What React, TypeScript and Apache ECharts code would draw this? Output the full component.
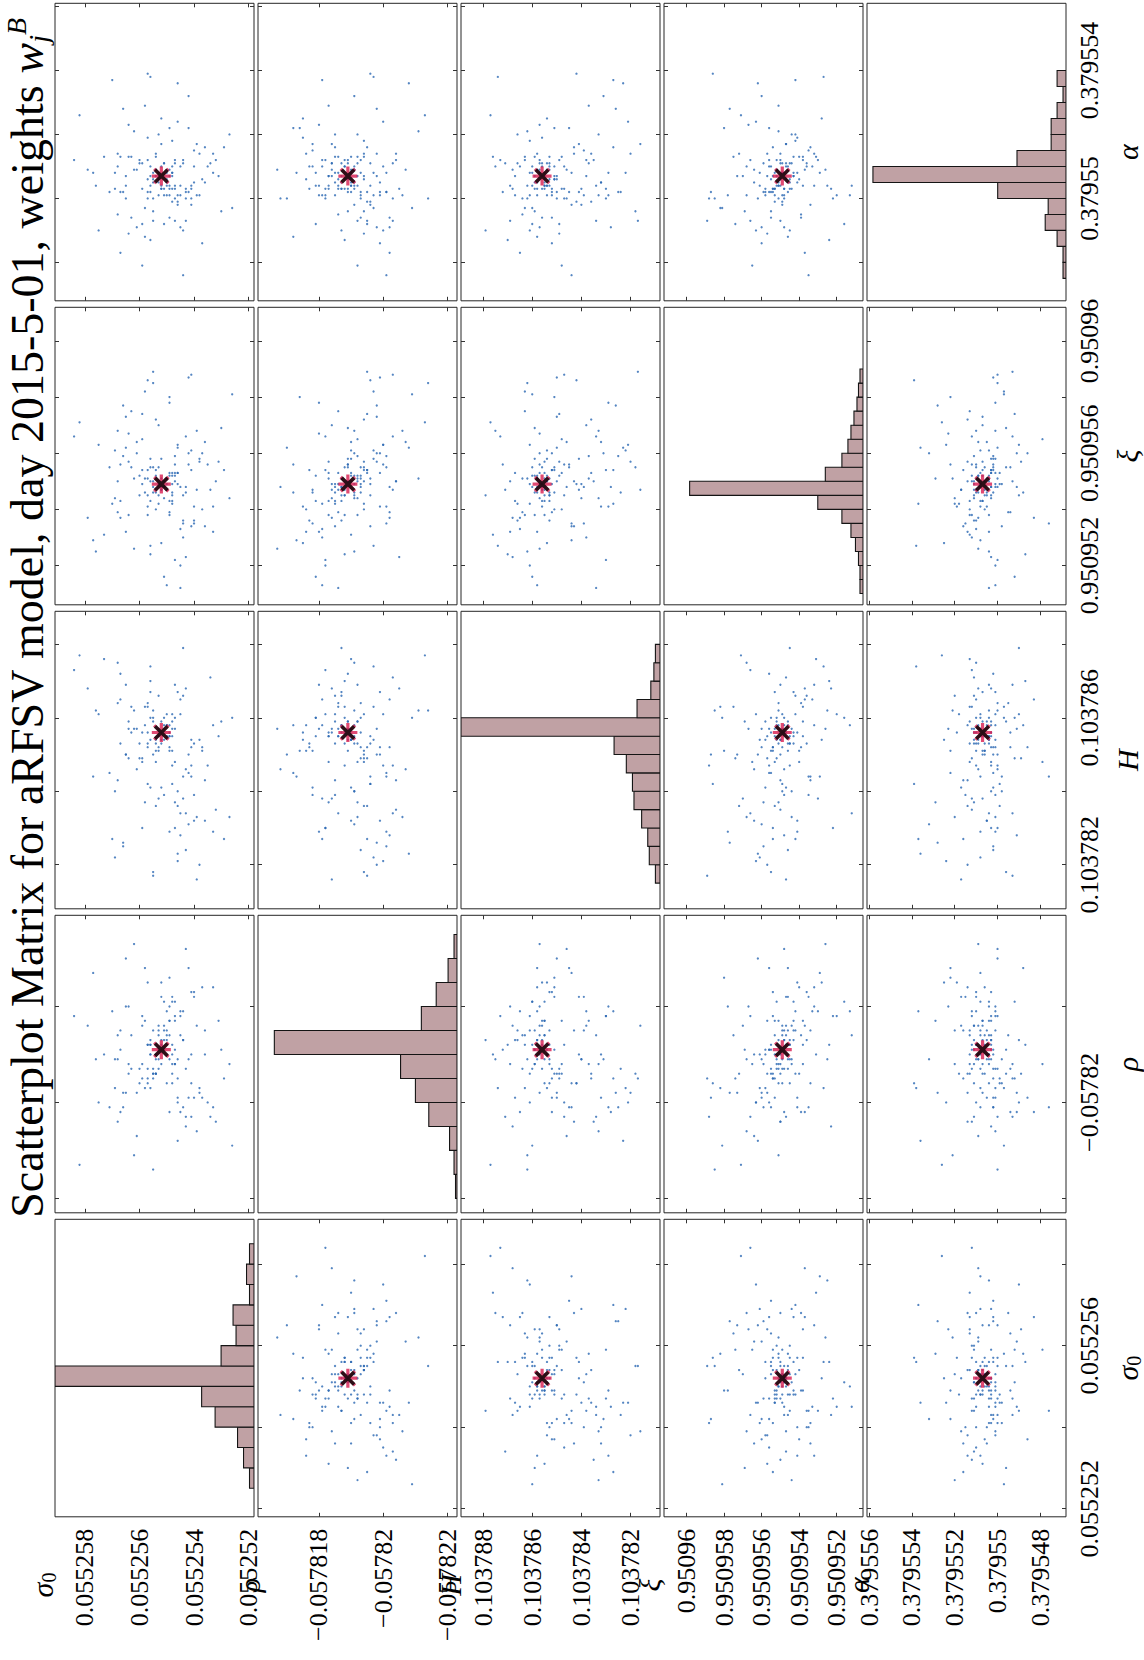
import React, { useEffect, useRef } from "react";
import * as echarts from "echarts";

// ---------------- data (samples) ----------------
const sigma0 = [
  0.0552547, 0.0552564, 0.0552543, 0.0552556, 0.0552538, 0.0552552, 0.0552576, 0.0552546, 0.0552559, 0.0552541,
  0.0552567, 0.0552549, 0.0552533, 0.0552557, 0.0552544, 0.0552561, 0.0552548, 0.0552582, 0.055254, 0.0552555,
  0.0552545, 0.0552568, 0.0552536, 0.0552553, 0.0552542, 0.0552558, 0.0552547, 0.0552565, 0.0552529, 0.0552549,
  0.0552563, 0.0552543, 0.0552556, 0.0552531, 0.0552569, 0.0552546, 0.0552551, 0.055256, 0.0552539, 0.0552579,
  0.0552548, 0.0552557, 0.0552541, 0.0552566, 0.0552545, 0.0552571, 0.0552544, 0.0552554, 0.0552537, 0.0552562,
  0.0552547, 0.0552559, 0.0552534, 0.0552552, 0.055254, 0.0552555, 0.0552567, 0.0552546, 0.0552577, 0.0552542,
  0.0552558, 0.0552549, 0.0552532, 0.0552564, 0.0552543, 0.0552556, 0.0552535, 0.0552565, 0.0552548, 0.0552553,
  0.0552545, 0.0552573, 0.0552541, 0.0552557, 0.0552568, 0.0552538, 0.055255, 0.0552561, 0.0552527, 0.0552547,
  0.0552559, 0.0552544, 0.0552566, 0.0552552, 0.0552546, 0.0552584, 0.055254, 0.0552555, 0.0552536, 0.0552563,
  0.0552548, 0.0552569, 0.0552543, 0.0552558, 0.055253, 0.0552554, 0.0552549, 0.0552567, 0.0552542, 0.055256,
  0.0552545, 0.0552575, 0.0552539, 0.0552556, 0.0552533, 0.0552565, 0.0552547, 0.055257, 0.0552541, 0.0552557,
  0.0552546, 0.0552562, 0.0552537, 0.0552551, 0.0552568, 0.0552544, 0.0552559, 0.0552526, 0.0552548, 0.0552564,
  0.055255, 0.0552554, 0.0552549, 0.0552555, 0.0552553, 0.0552551, 0.0552556, 0.0552548, 0.0552552, 0.0552557,
  0.055255, 0.0552553, 0.0552547, 0.0552555, 0.0552551, 0.0552554, 0.0552549, 0.0552552, 0.0552556, 0.055255,
  0.0552553, 0.0552548, 0.0552555, 0.0552551, 0.0552554, 0.0552552, 0.0552549, 0.0552557, 0.055255, 0.0552553,
];
const rho = [
  -0.0578183, -0.0578192, -0.0578203, -0.0578187, -0.0578197, -0.0578178, -0.0578191, -0.0578208, -0.0578184, -0.0578196,
  -0.0578189, -0.0578174, -0.0578201, -0.0578193, -0.0578181, -0.0578198, -0.0578188, -0.0578213, -0.0578177, -0.0578194,
  -0.0578182, -0.0578204, -0.057819, -0.0578185, -0.0578199, -0.0578172, -0.0578192, -0.057818, -0.0578195, -0.0578202,
  -0.0578186, -0.0578168, -0.0578197, -0.0578183, -0.0578191, -0.05782, -0.0578179, -0.0578193, -0.0578206, -0.0578184,
  -0.0578196, -0.0578175, -0.057819, -0.0578198, -0.0578181, -0.0578201, -0.0578187, -0.0578194, -0.0578176, -0.0578211,
  -0.0578182, -0.0578192, -0.0578203, -0.0578189, -0.0578178, -0.0578195, -0.0578185, -0.0578199, -0.0578173, -0.0578191,
  -0.0578197, -0.0578183, -0.0578204, -0.057818, -0.0578193, -0.0578188, -0.05782, -0.057817, -0.0578194, -0.0578184,
  -0.0578202, -0.057819, -0.0578177, -0.0578196, -0.0578186, -0.0578198, -0.0578181, -0.0578207, -0.0578192, -0.0578179,
  -0.0578195, -0.0578187, -0.0578201, -0.0578175, -0.0578191, -0.0578182, -0.0578199, -0.0578214, -0.0578185, -0.0578193,
  -0.0578178, -0.0578197, -0.0578205, -0.0578183, -0.0578189, -0.0578194, -0.057818, -0.0578202, -0.0578172, -0.0578196,
  -0.0578186, -0.05782, -0.0578184, -0.057819, -0.0578176, -0.0578198, -0.0578192, -0.0578181, -0.0578203, -0.0578188,
  -0.0578195, -0.0578167, -0.0578199, -0.0578185, -0.0578191, -0.0578201, -0.0578182, -0.0578209, -0.0578179, -0.0578194,
  -0.0578187, -0.0578191, -0.0578186, -0.0578193, -0.0578189, -0.0578184, -0.057819, -0.0578192, -0.0578188, -0.0578195,
  -0.0578185, -0.0578191, -0.0578189, -0.0578194, -0.0578187, -0.057819, -0.0578183, -0.0578192, -0.0578188, -0.0578186,
  -0.0578193, -0.057819, -0.0578185, -0.0578189, -0.0578194, -0.0578187, -0.0578191, -0.0578188, -0.0578196, -0.0578186,
];
const hurst = [
  0.1037848, 0.1037859, 0.1037834, 0.1037867, 0.1037854, 0.1037841, 0.1037862, 0.1037823, 0.1037856, 0.1037844,
  0.1037872, 0.1037851, 0.1037829, 0.1037864, 0.1037838, 0.1037857, 0.1037847, 0.1037877, 0.1037853, 0.1037818,
  0.1037861, 0.1037843, 0.1037832, 0.1037866, 0.103785, 0.1037858, 0.1037837, 0.1037869, 0.1037827, 0.1037852,
  0.1037863, 0.1037846, 0.1037874, 0.1037855, 0.103784, 0.1037821, 0.103786, 0.1037849, 0.1037833, 0.1037868,
  0.1037842, 0.1037856, 0.1037854, 0.1037826, 0.1037865, 0.1037845, 0.1037879, 0.1037836, 0.1037851, 0.1037862,
  0.103783, 0.1037848, 0.1037871, 0.1037859, 0.1037839, 0.1037817, 0.1037853, 0.1037867, 0.1037844, 0.1037831,
  0.1037863, 0.1037855, 0.1037835, 0.1037857, 0.1037824, 0.103787, 0.1037847, 0.103785, 0.1037861, 0.1037838,
  0.1037828, 0.1037876, 0.1037852, 0.1037842, 0.1037864, 0.103782, 0.1037858, 0.1037846, 0.1037833, 0.103786,
  0.1037849, 0.1037866, 0.1037825, 0.1037854, 0.103784, 0.1037873, 0.1037832, 0.1037862, 0.1037843, 0.1037856,
  0.1037851, 0.1037822, 0.1037868, 0.1037837, 0.1037859, 0.1037848, 0.1037829, 0.1037865, 0.1037845, 0.1037853,
  0.1037834, 0.1037861, 0.1037816, 0.1037841, 0.1037858, 0.103785, 0.1037869, 0.1037827, 0.1037847, 0.1037863,
  0.1037836, 0.1037857, 0.1037852, 0.1037839, 0.1037875, 0.1037844, 0.103783, 0.103786, 0.1037855, 0.1037849,
  0.1037858, 0.1037853, 0.1037855, 0.103786, 0.1037851, 0.1037857, 0.1037854, 0.1037859, 0.1037856, 0.1037852,
  0.1037861, 0.1037855, 0.1037857, 0.103785, 0.1037858, 0.1037854, 0.1037856, 0.1037853, 0.103786, 0.1037855,
  0.1037852, 0.1037857, 0.1037859, 0.1037854, 0.1037851, 0.1037856, 0.1037858, 0.1037853, 0.1037855, 0.1037857,
];
const xi = [
  0.9509553, 0.9509538, 0.9509566, 0.9509543, 0.9509558, 0.9509547, 0.9509525, 0.9509562, 0.9509549, 0.9509534,
  0.9509556, 0.950958, 0.9509541, 0.9509551, 0.950953, 0.950956, 0.9509545, 0.9509571, 0.9509536, 0.9509555,
  0.950952, 0.950955, 0.9509564, 0.9509542, 0.9509587, 0.9509546, 0.9509559, 0.9509532, 0.9509554, 0.9509539,
  0.9509575, 0.9509548, 0.9509527, 0.9509557, 0.9509544, 0.9509563, 0.9509516, 0.9509552, 0.9509568, 0.9509537,
  0.9509549, 0.9509541, 0.9509561, 0.9509577, 0.9509533, 0.9509555, 0.9509545, 0.9509572, 0.950954, 0.9509551,
  0.9509522, 0.9509565, 0.9509547, 0.9509558, 0.9509535, 0.9509589, 0.9509543, 0.9509553, 0.9509529, 0.950956,
  0.9509582, 0.9509538, 0.950955, 0.9509567, 0.9509546, 0.9509524, 0.9509556, 0.9509562, 0.9509542, 0.950957,
  0.9509548, 0.9509531, 0.9509554, 0.9509586, 0.9509539, 0.9509557, 0.9509513, 0.9509564, 0.9509544, 0.9509552,
  0.9509574, 0.9509536, 0.9509559, 0.9509528, 0.9509549, 0.9509566, 0.9509541, 0.9509585, 0.9509534, 0.9509555,
  0.9509546, 0.9509561, 0.9509523, 0.9509551, 0.9509569, 0.950954, 0.9509578, 0.9509537, 0.9509556, 0.9509545,
  0.9509512, 0.9509563, 0.9509547, 0.9509558, 0.9509532, 0.9509573, 0.950955, 0.9509542, 0.9509588, 0.9509538,
  0.9509553, 0.9509526, 0.950956, 0.9509548, 0.9509568, 0.9509535, 0.9509554, 0.9509581, 0.9509543, 0.9509557,
  0.9509551, 0.9509546, 0.9509553, 0.9509548, 0.9509555, 0.9509544, 0.950955, 0.9509552, 0.9509547, 0.9509554,
  0.9509549, 0.9509545, 0.9509556, 0.950955, 0.9509548, 0.9509552, 0.9509543, 0.9509551, 0.9509555, 0.9509547,
  0.9509549, 0.9509553, 0.9509546, 0.950955, 0.9509554, 0.9509548, 0.9509552, 0.9509545, 0.9509551, 0.9509549,
];
const alpha = [
  0.3795503, 0.3795513, 0.3795493, 0.3795507, 0.3795501, 0.3795517, 0.3795504, 0.3795536, 0.3795511, 0.3795498,
  0.3795502, 0.3795522, 0.3795508, 0.37955, 0.3795512, 0.3795491, 0.3795503, 0.3795526, 0.379551, 0.3795496,
  0.3795501, 0.3795514, 0.3795505, 0.379552, 0.3795502, 0.3795488, 0.3795511, 0.3795504, 0.3795516, 0.3795494,
  0.3795513, 0.37955, 0.3795538, 0.3795507, 0.3795503, 0.3795524, 0.3795492, 0.3795512, 0.3795501, 0.3795509,
  0.3795499, 0.3795519, 0.3795504, 0.3795528, 0.379551, 0.3795502, 0.379549, 0.3795514, 0.3795506, 0.3795521,
  0.37955, 0.3795479, 0.3795511, 0.3795503, 0.3795515, 0.3795493, 0.3795513, 0.3795501, 0.3795508, 0.3795532,
  0.3795497, 0.3795504, 0.3795512, 0.3795523, 0.3795502, 0.3795487, 0.379551, 0.37955, 0.3795518, 0.3795507,
  0.3795491, 0.3795513, 0.3795503, 0.3795539, 0.3795495, 0.3795514, 0.3795501, 0.3795509, 0.379552, 0.3795504,
  0.3795492, 0.3795511, 0.3795502, 0.3795525, 0.3795498, 0.3795512, 0.3795505, 0.37955, 0.3795516, 0.3795494,
  0.379551, 0.3795508, 0.3795503, 0.3795529, 0.3795496, 0.3795513, 0.3795501, 0.3795483, 0.3795522, 0.3795511,
  0.3795504, 0.379549, 0.3795517, 0.3795502, 0.3795514, 0.3795507, 0.3795493, 0.3795537, 0.37955, 0.3795512,
  0.3795499, 0.3795509, 0.3795486, 0.3795501, 0.379551, 0.3795476, 0.3795503, 0.3795497, 0.3795508, 0.3795489,
  0.3795505, 0.3795509, 0.3795503, 0.3795508, 0.3795506, 0.3795511, 0.3795504, 0.3795507, 0.379551, 0.3795502,
  0.3795508, 0.3795505, 0.3795512, 0.3795506, 0.3795503, 0.3795509, 0.3795507, 0.3795504, 0.379551, 0.3795506,
  0.3795501, 0.3795508, 0.3795505, 0.3795511, 0.3795507, 0.3795503, 0.3795509, 0.3795506, 0.3795504, 0.3795508,
];

// weighted mean (red asterisk) and reference estimate (black cross): sigma0, rho, H, xi, alpha
const meanPoint = [0.0552552, -0.0578189, 0.1037856, 0.9509549, 0.3795507];
const bestPoint = [0.0552552, -0.0578189, 0.1037856, 0.9509549, 0.3795507];

// axis limits
const axisMin = [0.0552518, -0.0578223, 0.1037808, 0.9509506, 0.3795468];
const axisMax = [0.0552591, -0.0578161, 0.1037889, 0.9509612, 0.3795561];

// ticks and labels
const sigma0Ticks = [0.055252, 0.055254, 0.055256, 0.055258];
const rhoTicks = [-0.057822, -0.05782, -0.057818];
const hurstTicks = [0.103782, 0.103784, 0.103786, 0.103788];
const xiTicks = [0.950952, 0.950954, 0.950956, 0.950958, 0.95096];
const alphaTicks = [0.379548, 0.37955, 0.379552, 0.379554, 0.379556];

const sigma0TickText = ["0.055252", "0.055254", "0.055256", "0.055258"];
const rhoTickText = ["\u22120.057822", "\u22120.05782", "\u22120.057818"];
const hurstTickText = ["0.103782", "0.103784", "0.103786", "0.103788"];
const xiTickText = ["0.950952", "0.950954", "0.950956", "0.950958", "0.95096"];
const alphaTickText = ["0.379548", "0.37955", "0.379552", "0.379554", "0.379556"];

const sigma0RightTicks = [0.055252, 0.055256];
const rhoRightTicks = [-0.05782];
const hurstRightTicks = [0.103782, 0.103786];
const xiRightTicks = [0.950952, 0.950956, 0.95096];
const alphaRightTicks = [0.37955, 0.379554];

// histograms (bin edges, counts, count-axis max)
const sigma0BinEdges = [0.0552525, 0.055253, 0.0552535, 0.055254, 0.0552545, 0.055255, 0.0552555, 0.055256, 0.0552565, 0.055257, 0.0552575, 0.055258, 0.0552585];
const sigma0Counts = [3, 7, 11, 26, 35, 133, 22, 12, 14, 3, 5, 3];
const rhoBinEdges = [-0.057822, -0.0578215, -0.057821, -0.0578205, -0.05782, -0.0578195, -0.057819, -0.0578185, -0.057818, -0.0578175, -0.057817, -0.0578165];
const rhoCounts = [1, 2, 5, 19, 28, 38, 123, 24, 14, 6, 2];
const hurstBinEdges = [0.1037815, 0.103782, 0.1037825, 0.103783, 0.1037835, 0.103784, 0.1037845, 0.103785, 0.1037855, 0.103786, 0.1037865, 0.103787, 0.1037875, 0.103788];
const hurstCounts = [3, 7, 8, 12, 17, 18, 22, 30, 130, 15, 6, 4, 3];
const xiBinEdges = [0.950951, 0.9509515, 0.950952, 0.9509525, 0.950953, 0.9509535, 0.950954, 0.9509545, 0.950955, 0.9509555, 0.950956, 0.9509565, 0.950957, 0.9509575, 0.950958, 0.9509585, 0.950959];
const xiCounts = [2, 2, 3, 5, 8, 14, 30, 115, 25, 14, 10, 8, 6, 4, 3, 2];
const alphaBinEdges = [0.3795475, 0.379548, 0.3795485, 0.379549, 0.3795495, 0.37955, 0.3795505, 0.379551, 0.3795515, 0.379552, 0.3795525, 0.379553, 0.3795535, 0.379554];
const alphaCounts = [2, 2, 6, 14, 12, 46, 130, 33, 10, 10, 6, 2, 6];
const histMax = [133, 134, 130, 132, 134];

const titleText = "Scatterplot Matrix for aRFSV model, day 2015-5-01, weights ";

// ---------------- layout / style ----------------
const FONT = "Liberation Serif";
const COL_LEFT = 55;
const COL_STEP = 203;
const PANEL_W = 199;
const ROW_TOP = 3.3;
const ROW_STEP = 304;
const PANEL_H = 297.5;

const ASTERISK = "path://M8.3,0h3.4v20h-3.4z M0,8.3h20v3.4h-20z M1.3,3.7l2.4,-2.4l15,15l-2.4,2.4z M16.3,1.3l2.4,2.4l-15,15l-2.4,-2.4z";
const CROSS = "path://M0,3.4L3.4,0L20,16.6L16.6,20Z M16.6,0L20,3.4L3.4,20L0,16.6Z";

function buildOption() {
  const vars = [sigma0, rho, hurst, xi, alpha];
  const ticks = [sigma0Ticks, rhoTicks, hurstTicks, xiTicks, alphaTicks];
  const tickText = [sigma0TickText, rhoTickText, hurstTickText, xiTickText, alphaTickText];
  const rightTicks = [sigma0RightTicks, rhoRightTicks, hurstRightTicks, xiRightTicks, alphaRightTicks];
  const binEdges = [sigma0BinEdges, rhoBinEdges, hurstBinEdges, xiBinEdges, alphaBinEdges];
  const counts = [sigma0Counts, rhoCounts, hurstCounts, xiCounts, alphaCounts];

  const fmt = (vi: number) => (v: number) => {
    const i = ticks[vi].findIndex((t) => Math.abs(t - v) < 1e-10);
    return i >= 0 ? tickText[vi][i] : "";
  };
  const labelStyle = { fontFamily: FONT, fontSize: 26, color: "#000" };

  const grids: any[] = [];
  const xAxes: any[] = [];
  const yAxes: any[] = [];
  const series: any[] = [];

  for (let r = 0; r < 5; r++) {
    for (let c = 0; c < 5; c++) {
      const k = grids.length;
      const hv = c; // horizontal variable
      const vv = 4 - r; // vertical variable
      const diag = hv === vv;
      grids.push({
        left: COL_LEFT + c * COL_STEP,
        top: ROW_TOP + r * ROW_STEP,
        width: PANEL_W,
        height: PANEL_H,
        show: true,
        backgroundColor: "#fff",
        borderColor: "#262626",
        borderWidth: 1,
      });
      const tick = (vals: number[]) => ({
        show: !diag,
        inside: true,
        length: 4,
        customValues: vals,
        lineStyle: { color: "#333", width: 1 },
      });
      const xb = xAxes.length;
      xAxes.push({
        gridIndex: k, type: "value", position: "bottom", min: axisMin[hv], max: axisMax[hv], inverse: true,
        axisLine: { show: false }, splitLine: { show: false }, axisTick: tick(ticks[hv]),
        axisLabel: { show: r === 4, customValues: ticks[hv], rotate: 90, margin: 12, formatter: fmt(hv), ...labelStyle },
      });
      xAxes.push({
        gridIndex: k, type: "value", position: "top", min: axisMin[hv], max: axisMax[hv], inverse: true,
        axisLine: { show: false }, splitLine: { show: false }, axisTick: tick(ticks[hv]), axisLabel: { show: false },
      });
      const yl = yAxes.length;
      yAxes.push({
        gridIndex: k, type: "value", position: "left", min: axisMin[vv], max: axisMax[vv],
        axisLine: { show: false }, splitLine: { show: false }, axisTick: tick(ticks[vv]), axisLabel: { show: false },
      });
      yAxes.push({
        gridIndex: k, type: "value", position: "right", min: axisMin[vv], max: axisMax[vv],
        axisLine: { show: false }, splitLine: { show: false }, axisTick: tick(ticks[vv]),
        axisLabel: { show: c === 4, customValues: rightTicks[vv], rotate: 90, margin: 10, formatter: fmt(vv), ...labelStyle },
      });

      if (diag) {
        const xc = xAxes.length;
        xAxes.push({ gridIndex: k, type: "value", min: 0, max: histMax[hv], inverse: true, show: false });
        const edges = binEdges[hv];
        const data = counts[hv].map((n, i) => [edges[i], edges[i + 1], n]);
        series.push({
          type: "custom",
          xAxisIndex: xc,
          yAxisIndex: yl,
          silent: true,
          clip: true,
          encode: { x: 2, y: [0, 1] },
          data,
          renderItem: (_p: any, api: any) => {
            const lo = api.value(0);
            const hi = api.value(1);
            const n = api.value(2);
            const a = api.coord([n, hi]);
            const b = api.coord([0, lo]);
            return {
              type: "rect",
              shape: {
                x: Math.min(a[0], b[0]),
                y: Math.min(a[1], b[1]),
                width: Math.abs(b[0] - a[0]),
                height: Math.abs(b[1] - a[1]),
              },
              style: { fill: "#c0a1a4", stroke: "#141414", lineWidth: 1.1 },
            };
          },
        });
      } else {
        const pts = vars[hv].map((v, i) => [v, vars[vv][i]]);
        series.push({
          type: "scatter", xAxisIndex: xb, yAxisIndex: yl, silent: true,
          symbol: "circle", symbolSize: 2.3, itemStyle: { color: "#2a68b3" }, data: pts, z: 2,
        });
        series.push({
          type: "scatter", xAxisIndex: xb, yAxisIndex: yl, silent: true,
          symbol: ASTERISK, symbolSize: 19, itemStyle: { color: "#d81b4f" },
          data: [[meanPoint[hv], meanPoint[vv]]], z: 3,
        });
        series.push({
          type: "scatter", xAxisIndex: xb, yAxisIndex: yl, silent: true,
          symbol: CROSS, symbolSize: 15, itemStyle: { color: "#000" },
          data: [[bestPoint[hv], bestPoint[vv]]], z: 4,
        });
      }
    }
  }

  const nameRich = {
    i: { fontFamily: FONT, fontStyle: "italic", fontSize: 30, lineHeight: 34, fill: "#000" },
    s: { fontFamily: FONT, fontSize: 20, lineHeight: 20, verticalAlign: "bottom", fill: "#000" },
  };
  const nameTexts = ["{i|\u03c3}{s|0}", "{i|\u03c1}", "{i|H}", "{i|\u03be}", "{i|\u03b1}"];
  const graphics: any[] = [];
  const bottomNameX = [42, 249, 450, 649, 858];
  for (let c = 0; c < 5; c++) {
    graphics.push({
      type: "text", x: bottomNameX[c], y: 1585, rotation: Math.PI / 2, silent: true,
      style: { text: nameTexts[c], rich: nameRich, align: "center", verticalAlign: "middle" },
    });
  }
  for (let r = 0; r < 5; r++) {
    graphics.push({
      type: "text", x: 1127, y: ROW_TOP + r * ROW_STEP + PANEL_H / 2, rotation: Math.PI / 2, silent: true,
      style: { text: nameTexts[4 - r], rich: nameRich, align: "center", verticalAlign: "middle" },
    });
  }
  graphics.push({
    type: "text", x: 27, y: 618, rotation: Math.PI / 2, silent: true,
    style: {
      text: titleText + "{w|w}{sub|j}{sup|B}",
      fontFamily: FONT, fontSize: 46, fill: "#000", lineHeight: 50,
      rich: {
        w: { fontFamily: FONT, fontStyle: "italic", fontSize: 46, lineHeight: 50, fill: "#000" },
        sub: { fontFamily: FONT, fontStyle: "italic", fontSize: 28, lineHeight: 26, verticalAlign: "bottom", fill: "#000" },
        sup: { fontFamily: FONT, fontStyle: "italic", fontSize: 28, lineHeight: 26, verticalAlign: "top", fill: "#000" },
      },
      align: "center", verticalAlign: "middle",
    },
  });

  return {
    animation: false,
    backgroundColor: "#fff",
    grid: grids,
    xAxis: xAxes,
    yAxis: yAxes,
    series,
    graphic: { elements: graphics },
  };
}

export default function App() {
  const ref = useRef<HTMLDivElement>(null);
  useEffect(() => {
    if (!ref.current) return;
    const chart = echarts.init(ref.current, undefined, { renderer: "svg" });
    chart.setOption(buildOption() as any);
    return () => chart.dispose();
  }, []);
  return (
    <div
      ref={ref}
      style={{ position: "absolute", left: 0, top: 0, width: 1144, height: 1660, background: "#fff" }}
    />
  );
}
